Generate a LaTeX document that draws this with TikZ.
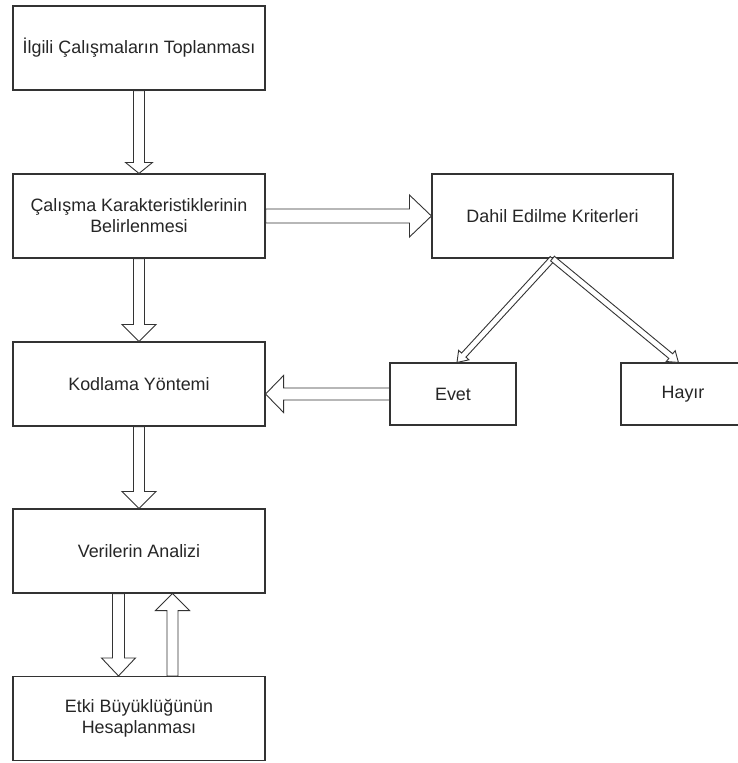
\documentclass[tikz,border=0pt]{standalone}
\usepackage{fontspec}
\setmainfont{Liberation Sans}
\usetikzlibrary{calc}
\tikzset{
  box/.style={draw=black!80, line width=1.1pt, fill=white, text=black!85, align=center,
    font=\fontsize{17.9}{21}\selectfont, inner sep=0pt},
  arr/.style={draw=black!80, fill=white, line width=0.9pt, line join=miter}
}
% start, end, shaft half-width, head half-width, head length
\newcommand{\barrow}[5]{%
  \path (#1) coordinate (baS) (#2) coordinate (baE);
  \path ($(baE)!#5!(baS)$) coordinate (baH);
  \draw[arr] ($(baS)!#3!90:(baE)$) -- ($(baH)!#3!90:(baE)$) -- ($(baH)!#4!90:(baE)$)
    -- (baE) -- ($(baH)!#4!-90:(baE)$) -- ($(baH)!#3!-90:(baE)$) -- ($(baS)!#3!-90:(baE)$) -- cycle;
}
\begin{document}
\begin{tikzpicture}[x=1pt, y=-1pt]
\useasboundingbox (0,0) rectangle (737,763);
\fill[white] (0,0) rectangle (737,763);
\node[box, minimum width=252pt, minimum height=84pt] (b1) at (139,48) {İlgili Çalışmaların Toplanması};
\node[box, minimum width=252pt, minimum height=84pt] (b2) at (139,216) {Çalışma Karakteristiklerinin\\Belirlenmesi};
\node[box, minimum width=241pt, minimum height=84pt] (b3) at (552.5,216) {Dahil Edilme Kriterleri};
\node[box, minimum width=126pt, minimum height=62pt] (evet) at (453,394) {Evet};
\node[box, minimum width=124pt, minimum height=62pt] (hayir) at (683,394) {Hayır};
\node[box, minimum width=252pt, minimum height=84pt] (b4) at (139,384) {Kodlama Yöntemi};
\node[box, minimum width=252pt, minimum height=84pt] (b5) at (139,551) {Verilerin Analizi};
\node[box, minimum width=252pt, minimum height=84pt] (b6) at (139,718.5) {Etki Büyüklüğünün\\Hesaplanması};

\coordinate (htip) at ([xshift=58pt]hayir.north west);
\coordinate (etip) at ([xshift=4pt]evet.north);
\coordinate (kin) at (evet.west -| b4.east);
\coordinate (d1s) at ([xshift=-20.5pt]b5.south);
\coordinate (d1e) at ([xshift=-20.5pt]b6.north);
\coordinate (u1s) at ([xshift=33.5pt]b6.north);
\coordinate (u1e) at ([xshift=33.5pt]b5.south);

\barrow{b1.south}{b2.north}{5.5pt}{13.5pt}{11pt}
\barrow{b2.east}{b3.west}{7pt}{21pt}{22pt}
\barrow{b2.south}{b4.north}{5.5pt}{17pt}{17pt}
\barrow{b3.south}{etip}{3pt}{7pt}{10pt}
\barrow{b3.south}{htip}{3pt}{7pt}{10pt}
\barrow{evet.west}{kin}{6pt}{18.5pt}{18pt}
\barrow{b4.south}{b5.north}{5.5pt}{17pt}{17pt}
\barrow{d1s}{d1e}{6pt}{17pt}{18pt}
\barrow{u1s}{u1e}{5.5pt}{17pt}{17pt}
\end{tikzpicture}
\end{document}
